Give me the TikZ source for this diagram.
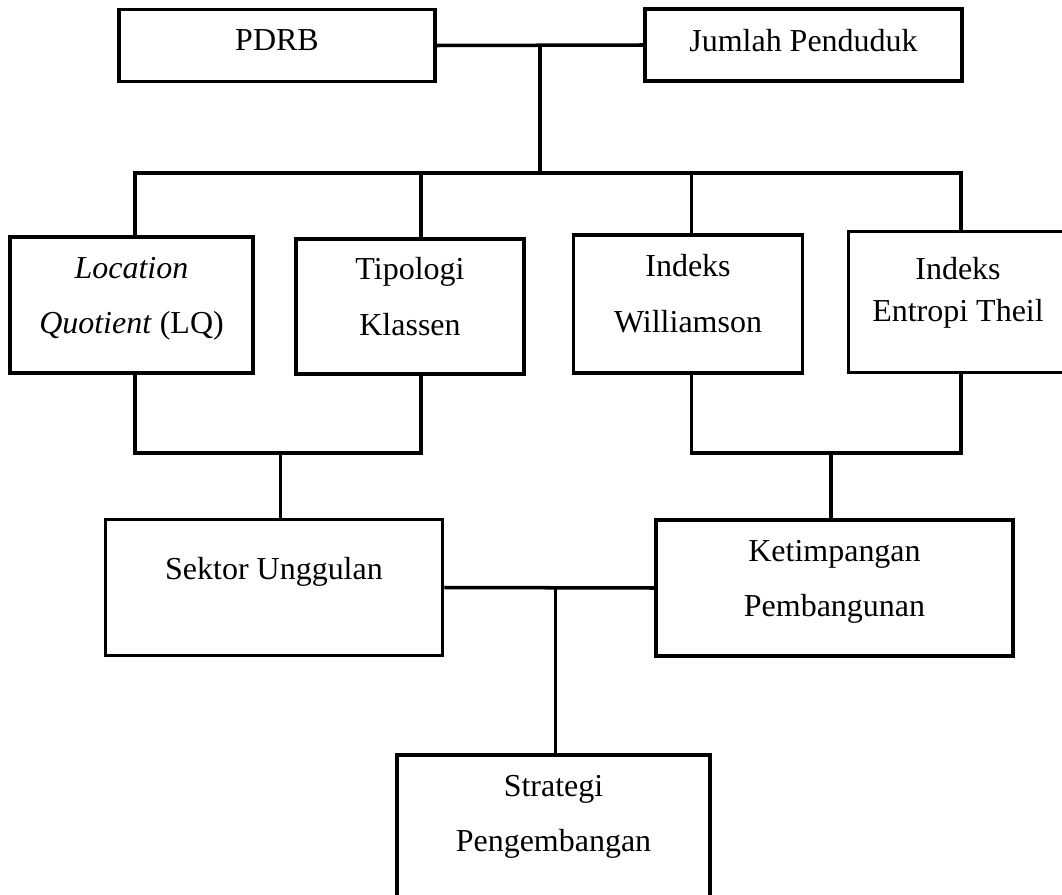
\documentclass[tikz,border=0pt]{standalone}
\usepackage{fontspec}
\setmainfont{Liberation Serif}
\usetikzlibrary{calc}

\begin{document}
\begin{tikzpicture}[
  line width=2pt,
  box/.style={draw=black, line width=2pt, align=center, inner sep=0pt, text height=0.5cm, text depth=#1, font=\fontsize{18.2}{31.3}\selectfont},
  box/.default=0.27cm,
  twoline/.style={box=#1, text height=1.6cm},
  link/.style={draw=black, line width=2pt}
]
  \useasboundingbox (0,0) rectangle (21.24,-17.9);

  \node[box=0.29cm, minimum width=6.32cm, minimum height=1.44cm] (pdrb) at (5.54,-0.91) {PDRB};
  \node[box=0.24cm, minimum width=6.34cm, minimum height=1.43cm] (jumlah) at (16.07,-0.90) {Jumlah Penduduk};

  \node[twoline=0.47cm, minimum width=4.87cm, minimum height=2.73cm] (lq) at (2.63,-6.10) {\textit{Location}\\\textit{Quotient} (LQ)};
  \node[twoline=0.46cm, minimum width=4.56cm, minimum height=2.70cm] (tipologi) at (8.20,-6.13) {Tipologi\\Klassen};
  \node[twoline=0.48cm, minimum width=4.58cm, minimum height=2.77cm] (williamson) at (13.76,-6.08) {Indeks\\Williamson};
  \node[twoline=0.82cm, minimum width=4.39cm, minimum height=2.82cm, font=\fontsize{18.2}{24.1}\selectfont] (entropi) at (19.16,-6.04) {Indeks\\Entropi Theil};

  \node[box=0.83cm, minimum width=6.74cm, minimum height=2.72cm] (sektor) at (5.48,-11.75) {Sektor Unggulan};
  \node[twoline=0.45cm, minimum width=7.13cm, minimum height=2.71cm] (ketimpangan) at (16.69,-11.76) {Ketimpangan\\Pembangunan};

  \node[twoline=0.76cm, minimum width=6.26cm, minimum height=3.0cm] (strategi) at (11.07,-16.6) {Strategi\\Pengembangan};

  \draw[link] (pdrb.east) -- (jumlah.west);
  \coordinate (hubtop) at ($(pdrb.east)!0.5!(jumlah.west)$);
  \coordinate (bartop) at ($(hubtop)+(0,-2.56)$);
  \draw[link] (hubtop) -- (bartop);
  \draw[link] ([xshift=0.07cm]lq.north) |- (bartop);
  \draw[link] ([xshift=0.22cm]tipologi.north) |- (bartop);
  \draw[link] ([xshift=0.07cm]williamson.north) |- (bartop);
  \draw[link] ([xshift=0.06cm]entropi.north) |- (bartop);

  \coordinate (hubleft) at ($([xshift=0.13cm]sektor.north)+(0,1.3)$);
  \draw[link] (hubleft) -- (hubleft |- sektor.north);
  \draw[link] ([xshift=0.07cm]lq.south) |- (hubleft);
  \draw[link] ([xshift=0.22cm]tipologi.south) |- (hubleft);

  \coordinate (hubright) at ($([xshift=-0.07cm]ketimpangan.north)+(0,1.31)$);
  \draw[link] (hubright) -- (hubright |- ketimpangan.north);
  \draw[link] ([xshift=0.07cm]williamson.south) |- (hubright);
  \draw[link] ([xshift=0.06cm]entropi.south) |- (hubright);

  \draw[link] (sektor.east) -- (ketimpangan.west);
  \coordinate (hubmid) at ($(sektor.east)!0.53!(ketimpangan.west)$);
  \draw[link] (hubmid) -- (hubmid |- strategi.north);
\end{tikzpicture}
\end{document}
